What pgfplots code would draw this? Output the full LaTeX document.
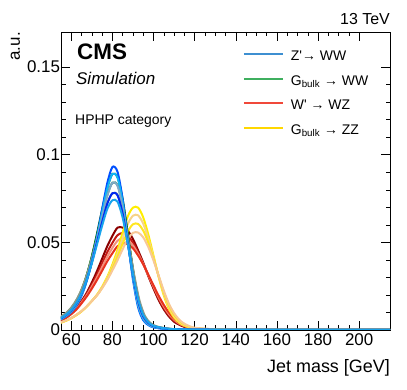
\documentclass[border=0pt]{standalone}
\usepackage{fontspec}
\setmainfont{Liberation Sans}
\usepackage{pgfplots}
\usepackage{pgfplotstable}
\pgfplotsset{compat=1.18}

\definecolor{legblue}{HTML}{3D8FD1}
\definecolor{leggreen}{HTML}{3FAF5F}
\definecolor{legred}{HTML}{F0483A}
\definecolor{legyellow}{HTML}{FFD700}
\definecolor{bA}{HTML}{0050FF}
\definecolor{bB}{HTML}{10B4F4}
\definecolor{bC}{HTML}{7FA8C8}
\definecolor{bD}{HTML}{0028F0}
\definecolor{bE}{HTML}{18A4EC}
\definecolor{gA}{HTML}{1E8A3C}
\definecolor{gB}{HTML}{005A00}
\definecolor{gC}{HTML}{8A9A8A}
\definecolor{rA}{HTML}{8B0000}
\definecolor{rB}{HTML}{C41A14}
\definecolor{rC}{HTML}{F4907C}
\definecolor{rD}{HTML}{E8321E}
\definecolor{yA}{HTML}{FFEE00}
\definecolor{yB}{HTML}{F6D488}
\definecolor{yC}{HTML}{FFE620}
\definecolor{yD}{HTML}{F8C896}

% Z' -> WW
\pgfplotstableread{
x     b1     b2     b3     b4     b5
55    .0060  .0062  .0064  .0066  .0068
57.5  .0079  .0081  .0083  .0086  .0088
60    .0102  .0105  .0108  .0112  .0115
62.5  .0140  .0144  .0148  .0152  .0155
65    .0195  .0200  .0204  .0208  .0210
67.5  .0279  .0283  .0285  .0286  .0286
70    .0391  .0392  .0390  .0385  .0381
72.5  .0530  .0525  .0515  .0500  .0488
75    .0688  .0670  .0645  .0615  .0595
77.5  .0837  .0806  .0765  .0720  .0690
80    .0930  .0890  .0840  .0780  .0740
82.5  .0902  .0868  .0822  .0768  .0732
85    .0744  .0725  .0697  .0663  .0640
87.5  .0512  .0510  .0503  .0494  .0488
90    .0288  .0296  .0305  .0313  .0318
92.5  .0130  .0140  .0152  .0165  .0175
95    .0056  .0063  .0070  .0078  .0085
97.5  .0028  .0031  .0035  .0040  .0044
100   .0015  .0017  .0019  .0022  .0024
105   .0006  .0007  .0008  .0009  .0010
110   .0003  .0003  .0004  .0004  .0005
120   .0001  .0001  .0002  .0002  .0002
140   .0001  .0001  .0001  .0001  .0001
215   .0000  .0000  .0000  .0000  .0000
}\zpww

% G_bulk -> WW
\pgfplotstableread{
x      g1     g2     g3
53.5   .0062  .0064  .0066
56.15  .0081  .0083  .0086
58.8   .0105  .0108  .0112
61.45  .0144  .0148  .0152
64.1   .0200  .0204  .0208
66.75  .0283  .0285  .0286
69.4   .0392  .0390  .0385
72.05  .0525  .0515  .0500
74.7   .0670  .0645  .0615
77.35  .0806  .0765  .0720
80     .0890  .0840  .0780
82.65  .0868  .0822  .0768
85.3   .0725  .0697  .0663
87.95  .0510  .0503  .0494
90.6   .0296  .0305  .0313
93.25  .0140  .0152  .0165
95.9   .0063  .0070  .0078
98.55  .0031  .0035  .0040
101.2  .0017  .0019  .0022
106.5  .0007  .0008  .0009
111.8  .0003  .0004  .0004
122.4  .0001  .0002  .0002
143.6  .0001  .0001  .0001
215    .0000  .0000  .0000
}\gbww

% W' -> WZ
\pgfplotstableread{
x     r1     r2     r3     r4
55    .0053  .0053  .0053  .0053
57.5  .0071  .0071  .0070  .0070
60    .0094  .0093  .0092  .0091
62.5  .0124  .0122  .0120  .0117
65    .0165  .0161  .0157  .0152
67.5  .0212  .0205  .0198  .0191
70    .0271  .0258  .0247  .0236
72.5  .0336  .0316  .0300  .0285
75    .0407  .0380  .0359  .0338
77.5  .0478  .0444  .0418  .0392
80    .0537  .0497  .0468  .0438
82.5  .0584  .0541  .0509  .0478
85    .0584  .0553  .0524  .0494
87.5  .0566  .0538  .0514  .0490
90    .0519  .0498  .0482  .0466
92.5  .0454  .0442  .0434  .0425
95    .0384  .0378  .0376  .0374
97.5  .0307  .0309  .0312  .0315
100   .0236  .0242  .0248  .0254
102.5 .0171  .0179  .0187  .0195
105   .0118  .0126  .0134  .0143
107.5 .0077  .0084  .0091  .0099
110   .0047  .0053  .0059  .0065
112.5 .0030  .0034  .0037  .0041
115   .0018  .0021  .0023  .0026
120   .0006  .0007  .0008  .0010
130   .0002  .0002  .0003  .0003
140   .0001  .0001  .0001  .0001
215   .0000  .0000  .0000  .0000
}\wpwz

% G_bulk -> ZZ
\pgfplotstableread{
x     y1     y2     y3     y4
55    .0042  .0043  .0043  .0044
57.5  .0053  .0054  .0054  .0055
60    .0067  .0068  .0068  .0069
62.5  .0085  .0086  .0086  .0087
65    .0106  .0107  .0107  .0108
67.5  .0134  .0134  .0134  .0135
70    .0166  .0166  .0165  .0165
72.5  .0201  .0200  .0198  .0197
75    .0247  .0244  .0241  .0238
77.5  .0303  .0297  .0291  .0285
80    .0374  .0362  .0351  .0340
82.5  .0458  .0437  .0418  .0398
85    .0557  .0524  .0493  .0461
87.5  .0649  .0605  .0562  .0519
90    .0698  .0652  .0603  .0554
92.5  .0698  .0654  .0605  .0556
95    .0642  .0606  .0567  .0528
97.5  .0543  .0520  .0496  .0472
100   .0423  .0414  .0405  .0396
102.5 .0303  .0305  .0307  .0310
105   .0197  .0206  .0215  .0224
107.5 .0120  .0129  .0140  .0150
110   .0071  .0078  .0087  .0096
112.5 .0042  .0047  .0053  .0059
115   .0025  .0028  .0032  .0036
120   .0008  .0010  .0011  .0013
130   .0003  .0003  .0004  .0004
140   .0001  .0001  .0001  .0002
215   .0000  .0000  .0000  .0000
}\gbzz

\begin{document}
\begin{tikzpicture}
\begin{axis}[
  name=ax, scale only axis, width=329bp, height=298bp,
  xmin=55, xmax=215, ymin=0, ymax=0.17,
  xtick={60,80,...,200}, minor x tick num=3,
  ytick={0,0.05,0.1,0.15}, minor y tick num=4,
  scaled y ticks=false,
  yticklabel style={/pgf/number format/fixed, xshift=2.5bp},
  tick align=inside, major tick length=9bp, minor tick length=4.5bp,
  tick style={black, line width=0.5bp},
  axis line style={line width=0.8bp},
  /pgf/number format/assume math mode=true,
  ticklabel style={font=\fontsize{17}{17}\selectfont},
  xlabel={Jet mass [GeV]}, ylabel={a.u.},
  xlabel style={font=\fontsize{18}{18}\selectfont, inner sep=0pt,
    at={(axis description cs:1,0)}, anchor=base east, yshift=-42bp},
  ylabel style={font=\fontsize{17}{17}\selectfont, inner sep=0pt,
    at={([xshift=-41bp]axis description cs:0,1)}, anchor=base east},
  every axis plot/.append style={no marks, smooth, line width=2bp},
  legend image code/.code={\draw[#1, line width=2bp] (0bp,3.5bp) -- (39bp,3.5bp);},
  legend cell align=left,
  legend style={draw=none, fill=none, inner sep=0pt, outer sep=0pt,
    at={(axis description cs:0.553,0.934)}, anchor=north west,
    row sep=12.6bp, column sep=7bp,
    font=\fontsize{14}{14}\selectfont,
    nodes={inner sep=0pt, text height=9bp, text depth=3bp}},
]
\addlegendimage{legblue}
\addlegendentry{Z\textquotesingle→ WW}
\addlegendimage{leggreen}
\addlegendentry{G\textsubscript{bulk} → WW}
\addlegendimage{legred}
\addlegendentry{W\textquotesingle\ → WZ}
\addlegendimage{legyellow}
\addlegendentry{G\textsubscript{bulk} → ZZ}

\addplot[rA, forget plot] table[x=x, y=r1] {\wpwz};
\addplot[rB, forget plot] table[x=x, y=r2] {\wpwz};
\addplot[rC, forget plot] table[x=x, y=r3] {\wpwz};
\addplot[rD, forget plot] table[x=x, y=r4] {\wpwz};

\addplot[yA, forget plot] table[x=x, y=y1] {\gbzz};
\addplot[yB, forget plot] table[x=x, y=y2] {\gbzz};
\addplot[yC, forget plot] table[x=x, y=y3] {\gbzz};
\addplot[yD, forget plot] table[x=x, y=y4] {\gbzz};

\addplot[gB, forget plot] table[x=x, y=g1] {\gbww};
\addplot[gA, forget plot] table[x=x, y=g2] {\gbww};
\addplot[gC, forget plot] table[x=x, y=g3] {\gbww};

\addplot[bA, forget plot] table[x=x, y=b1] {\zpww};
\addplot[bB, forget plot] table[x=x, y=b2] {\zpww};
\addplot[bC, forget plot] table[x=x, y=b3] {\zpww};
\addplot[bD, forget plot] table[x=x, y=b4] {\zpww};
\addplot[bE, forget plot] table[x=x, y=b5] {\zpww};
\end{axis}
\node[anchor=base west, inner sep=0pt, font=\fontsize{22.5}{22.5}\selectfont\bfseries]
  at ([xshift=16bp, yshift=-28bp]ax.north west) {CMS};
\node[anchor=base west, inner sep=0pt, font=\fontsize{17}{17}\selectfont\itshape]
  at ([xshift=15bp, yshift=-53bp]ax.north west) {Simulation};
\node[anchor=base west, inner sep=0pt, font=\fontsize{14}{14}\selectfont]
  at ([xshift=14bp, yshift=-93bp]ax.north west) {HPHP category};
\node[anchor=base east, inner sep=0pt, font=\fontsize{16}{16}\selectfont]
  at ([yshift=7bp]ax.north east) {13 TeV};
\path ([xshift=-61bp, yshift=-60bp]ax.south west) rectangle ([xshift=17bp, yshift=32bp]ax.north east);
\end{tikzpicture}
\end{document}
